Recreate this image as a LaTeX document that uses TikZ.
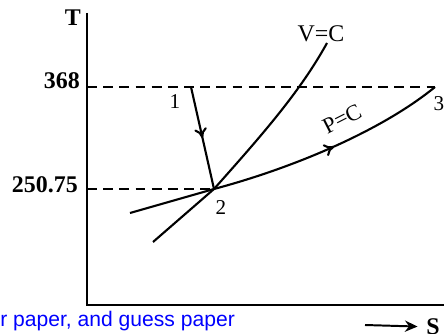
\documentclass[tikz,border=0pt]{standalone}
\usepackage{fontspec}
\setmainfont{Liberation Serif}
\newfontfamily\wmfont{Liberation Sans}
\usetikzlibrary{arrows.meta,decorations.markings}

\begin{document}
\begin{tikzpicture}[
  x=0.025cm,y=-0.025cm,
  axis/.style={line width=1.8pt},
  guide/.style={line width=1.4pt,dash pattern=on 7pt off 4.5pt},
  proc/.style={line width=1.5pt},
  midarrow/.style={postaction={decorate,decoration={markings,
      mark=at position #1 with {\arrow{To[length=7pt,width=9pt]}}}}},
  lbl/.style={inner sep=0pt,font=\fontsize{15}{17}\selectfont},
  val/.style={inner sep=0pt,anchor=east,font=\bfseries\fontsize{17}{19}\selectfont}
]
\useasboundingbox (0,0) rectangle (444,333);

% axes and state points
\coordinate (o)    at (87,305);
\coordinate (ytop) at (87,13);
\coordinate (xend) at (444,305);
\coordinate (t368) at (87,87);
\coordinate (t250) at (87,189);
\coordinate (p1)   at (191,87);
\coordinate (p2)   at (214,189);
\coordinate (p3)   at (435,87);
\coordinate (vlo)  at (153,242);
\coordinate (vhi)  at (327,43);
\coordinate (plo)  at (130,213);
\coordinate (s0)   at (365,325);

\node[val] (lT)   at (81,18)  {T};
\node[val] (l368) at (80,81)  {368};
\node[val] (l250) at (78,185) {250.75};
\node[lbl] (l1) at (175,102) {1};
\node[lbl] (l2) at (221,208) {2};
\node[lbl] (l3) at (439,104) {3};
\node[lbl,font=\fontsize{17}{19}\selectfont] (lV) at (321,34) {V=C};
\node[lbl,font=\fontsize{16}{18}\selectfont,rotate=27] (lP) at (342,119) {P=C};
\node[val,anchor=west] (lS) at (426,327) {S};

\draw[axis] (ytop) -- (o) -- (xend);
\draw[guide] (t368) -- (p3);
\draw[guide] (t250) -- (p2);

% processes
\draw[proc,midarrow=0.5] (p1) -- (p2);
\draw[proc] (vlo) -- (p2) .. controls (262,135) and (300,92) .. (vhi);
\draw[proc] (plo) -- (p2);
\draw[proc,midarrow=0.52] (p2) .. controls (300,166) and (385,128) .. (p3);

\draw[line width=1.4pt,-{Stealth[length=9pt,width=8pt]},shorten >=6pt] (s0) -- (lS);

\node[anchor=base west,inner sep=0pt,text=blue,
      font=\wmfont\fontsize{15}{17}\selectfont] (wm) at (0,326) {r paper, and guess paper};
\end{tikzpicture}
\end{document}
